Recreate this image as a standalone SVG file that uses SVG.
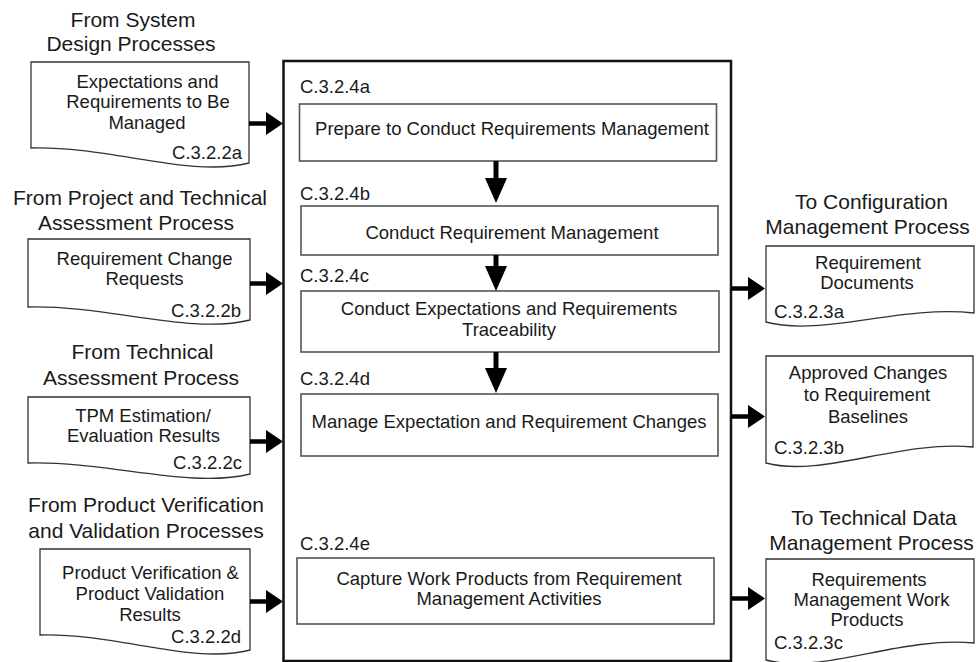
<svg xmlns="http://www.w3.org/2000/svg" width="976" height="662" viewBox="0 0 976 662">
<style>
text{font-family:"Liberation Sans",Arial,sans-serif;fill:#1a1a1a}
.h{font-size:21px;text-anchor:middle}
.t{font-size:18.5px;text-anchor:middle}
.l{font-size:18.5px}
.r{font-size:18.5px;text-anchor:end}
.doc{fill:#fff;stroke:#333;stroke-width:1.3}
.box{fill:#fff;stroke:#555;stroke-width:1.6}
.main{fill:#fff;stroke:#111;stroke-width:2.5}
.ah{stroke:#000;stroke-width:4.5;fill:none;marker-end:url(#mh)}
.av{stroke:#000;stroke-width:5;fill:none;marker-end:url(#mv)}
</style>
<defs>
<marker id="mh" markerUnits="userSpaceOnUse" markerWidth="18" markerHeight="24" refX="0" refY="11.5" orient="auto" overflow="visible"><path d="M0,0 L17,11.5 L0,23 Z" fill="#000"/></marker>
<marker id="mv" markerUnits="userSpaceOnUse" markerWidth="26" markerHeight="23" refX="0" refY="11" orient="auto" overflow="visible"><path d="M0,0 L25,11 L0,22 Z" fill="#000"/></marker>
</defs>
<rect width="976" height="662" fill="#fff"/>

<g id="main">
<rect class="main" x="283.5" y="61" width="447.5" height="600"/>
</g>

<g id="in1">
<text class="h" x="133" y="27">From System</text>
<text class="h" x="131" y="50.5">Design Processes</text>
<path class="doc" d="M31,62 H249 V163 C190,178 110,146 31,148 Z"/>
<text class="t" x="147.5" y="87.5">Expectations and</text>
<text class="t" x="148" y="108">Requirements to Be</text>
<text class="t" x="147" y="129">Managed</text>
<text class="r" x="242" y="159">C.3.2.2a</text>
</g>

<g id="in2">
<text class="h" x="140" y="204.5">From Project and Technical</text>
<text class="h" x="136" y="229.5">Assessment Process</text>
<path class="doc" d="M28,239 H250 V320 C190,335 108,305 28,307 Z"/>
<text class="t" x="144.5" y="265">Requirement Change</text>
<text class="t" x="144.5" y="285">Requests</text>
<text class="r" x="241" y="316.5">C.3.2.2b</text>
</g>

<g id="in3">
<text class="h" x="142.5" y="359">From Technical</text>
<text class="h" x="141" y="384.5">Assessment Process</text>
<path class="doc" d="M28,397 H250 V474 C190,489 108,461 28,463 Z"/>
<text class="t" x="143" y="422">TPM Estimation/</text>
<text class="t" x="143.5" y="442">Evaluation Results</text>
<text class="r" x="242" y="468.5">C.3.2.2c</text>
</g>

<g id="in4">
<text class="h" x="146" y="512">From Product Verification</text>
<text class="h" x="146" y="538">and Validation Processes</text>
<path class="doc" d="M40,549 H250 V650 C193,665 116,633 40,635 Z"/>
<text class="t" x="150.5" y="579">Product Verification &amp;</text>
<text class="t" x="150" y="600">Product Validation</text>
<text class="t" x="150" y="621">Results</text>
<text class="r" x="241" y="643">C.3.2.2d</text>
</g>

<g id="stepA">
<text class="l" x="300" y="93">C.3.2.4a</text>
<rect class="box" x="299.5" y="104" width="417" height="57"/>
<text class="t" x="512" y="135">Prepare to Conduct Requirements Management</text>
</g>

<g id="stepB">
<text class="l" x="300" y="200">C.3.2.4b</text>
<rect class="box" x="301" y="206" width="417" height="49"/>
<text class="t" x="512" y="238.5">Conduct Requirement Management</text>
</g>

<g id="stepC">
<text class="l" x="300" y="282">C.3.2.4c</text>
<rect class="box" x="301" y="291" width="418" height="61"/>
<text class="t" x="509" y="314.5">Conduct Expectations and Requirements</text>
<text class="t" x="509" y="335.5">Traceability</text>
</g>

<g id="stepD">
<text class="l" x="300" y="385">C.3.2.4d</text>
<rect class="box" x="301" y="394" width="417" height="62"/>
<text class="t" x="509" y="427.5">Manage Expectation and Requirement Changes</text>
</g>

<g id="stepE">
<text class="l" x="300" y="550">C.3.2.4e</text>
<rect class="box" x="297" y="558" width="417" height="66"/>
<text class="t" x="509" y="584.5">Capture Work Products from Requirement</text>
<text class="t" x="509" y="605">Management Activities</text>
</g>

<g id="out1">
<text class="h" x="871.5" y="208.5">To Configuration</text>
<text class="h" x="867.5" y="233.5">Management Process</text>
<path class="doc" d="M766,246 H974 V313 C899,305 822,337 766,322 Z"/>
<text class="t" x="868" y="268.5">Requirement</text>
<text class="t" x="867" y="288.5">Documents</text>
<text class="l" x="774" y="317.5">C.3.2.3a</text>
</g>

<g id="out2">
<path class="doc" d="M766,356 H973 V447 C899,440 822,478 766,463 Z"/>
<text class="t" x="868" y="378.5">Approved Changes</text>
<text class="t" x="867" y="400.5">to Requirement</text>
<text class="t" x="868" y="422.5">Baselines</text>
<text class="l" x="774" y="453.5">C.3.2.3b</text>
</g>

<g id="out3">
<text class="h" x="874" y="525">To Technical Data</text>
<text class="h" x="871.5" y="550">Management Process</text>
<path class="doc" d="M766,559 H974 V643 C899,636 822,675 766,660 Z"/>
<text class="t" x="869" y="586">Requirements</text>
<text class="t" x="871.5" y="606">Management Work</text>
<text class="t" x="867" y="626">Products</text>
<text class="l" x="774" y="648.5">C.3.2.3c</text>
</g>

<g id="connectors">
<path class="ah" d="M249,123.5 H266"/>
<path class="ah" d="M250,283.5 H266"/>
<path class="ah" d="M250,441.5 H266"/>
<path class="ah" d="M250,601.5 H266"/>
<path class="ah" d="M731,288.5 H748"/>
<path class="ah" d="M731,416.5 H748"/>
<path class="ah" d="M731,598.5 H748"/>
<path class="av" d="M496,161 V178"/>
<path class="av" d="M496,255 V266"/>
<path class="av" d="M496,352 V368"/>
</g>
</svg>
